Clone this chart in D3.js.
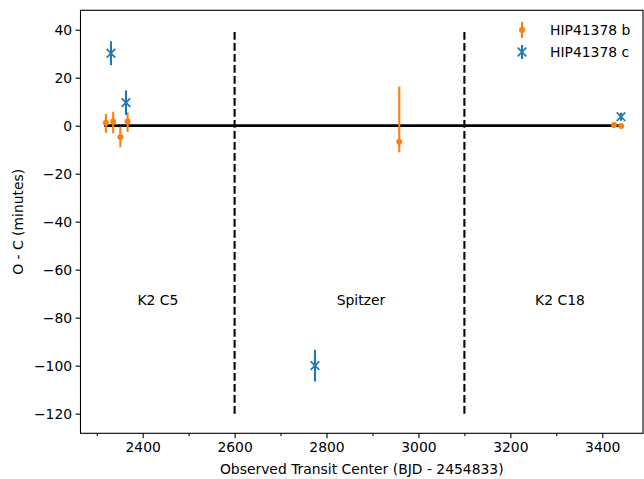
<!DOCTYPE html>
<html>
<head>
<meta charset="utf-8">
<script src="https://cdn.jsdelivr.net/npm/d3@7"></script>
<style>
  html, body { margin: 0; padding: 0; background: #fff; }
  svg { display: block; font-family: "DejaVu Sans", sans-serif; }
</style>
</head>
<body>
<svg id="chart" width="644" height="479"></svg>
<script>
// Transit timing of HIP 41378 b
const bDates  = [2320.0, 2335.8, 2351.3, 2367.2, 2958.3, 3425.5, 3441.0];
const bOC     = [1.2, 1.8, -4.7, 1.8, -6.7, 0.3, -0.1];
const bErrLo  = [4.1, 5.0, 4.3, 4.4, 4.4, 0.5, 0.5];
const bErrHi  = [3.7, 4.0, 4.3, 3.8, 23.0, 0.5, 0.5];

// Transit timing of HIP 41378 c
const cDates  = [2331.0, 2363.7, 2774.9, 3440.7];
const cOC     = [30.2, 9.6, -100.0, 3.75];
const cErr    = [5.0, 5.1, 6.6, 1.7];

// Observing campaign boundaries and labels
const boundaries = [2600, 3100];
const campaigns = [
  { name: "K2 C5",   x: 2433, y: -72.5 },
  { name: "Spitzer", x: 2875, y: -72.5 },
  { name: "K2 C18",  x: 3308, y: -72.5 }
];
const zeroLine = [2316, 3441];

const xTicks = [2400, 2600, 2800, 3000, 3200, 3400];
const xMinor = [2300, 2500, 2700, 2900, 3100, 3300];
const yTicks = [40, 20, 0, -20, -40, -60, -80, -100, -120];
const seriesNames = ["HIP41378 b", "HIP41378 c"];

const ORANGE = "#ff7f0e", BLUE = "#1f77b4";
const FS = 13.9;

const svg = d3.select("#chart");
const L = 80.5, R = 643, T = 10.3, B = 433.3;

const x = d3.scaleLinear().domain([2264.7, 3488.6]).range([L, R]);
const y = d3.scaleLinear().domain([-128.2, 48.1]).range([B, T]);

const minus = v => (v < 0 ? "\u2212" + Math.abs(v) : String(v));

// Axes
const gx = svg.append("g").attr("transform", `translate(0,${B})`)
  .call(d3.axisBottom(x).tickValues(xTicks).tickFormat(d3.format("d"))
    .tickSize(4.9).tickPadding(3.5));
svg.append("g").attr("transform", `translate(0,${B})`)
  .call(d3.axisBottom(x).tickValues(xMinor).tickFormat("").tickSize(2.8))
  .call(g => g.select(".domain").remove());
const gy = svg.append("g").attr("transform", `translate(${L},0)`)
  .call(d3.axisLeft(y).tickValues(yTicks).tickFormat(minus)
    .tickSize(4.9).tickPadding(3.5));

svg.selectAll(".tick text")
  .attr("font-size", FS).attr("font-family", "DejaVu Sans").attr("fill", "#000");
svg.selectAll(".tick line").attr("stroke", "#000").attr("stroke-width", 1.1);
svg.selectAll(".domain").remove();

// Frame
svg.append("rect").attr("x", L).attr("y", T)
  .attr("width", R - L).attr("height", B - T)
  .attr("fill", "none").attr("stroke", "#000").attr("stroke-width", 1.1);

// Zero reference line
svg.append("line")
  .attr("x1", x(zeroLine[0])).attr("x2", x(zeroLine[1]))
  .attr("y1", y(0)).attr("y2", y(0))
  .attr("stroke", "#000").attr("stroke-width", 2.8);

// Campaign boundaries
svg.selectAll(".bound").data(boundaries).join("line")
  .attr("x1", d => x(d)).attr("x2", d => x(d))
  .attr("y1", y(-120)).attr("y2", y(40))
  .attr("stroke", "#000").attr("stroke-width", 2.1)
  .attr("stroke-dasharray", "7.7,3.3");

// Campaign labels
svg.selectAll(".camp").data(campaigns).join("text")
  .attr("x", d => x(d.x)).attr("y", d => y(d.y))
  .attr("text-anchor", "middle").attr("dominant-baseline", "central")
  .attr("font-size", FS).text(d => d.name);

// Series b: error bars and dots
const bData = bDates.map((d, i) => ({ t: d, v: bOC[i], lo: bErrLo[i], hi: bErrHi[i] }));
svg.selectAll(".berr").data(bData).join("line")
  .attr("x1", d => x(d.t)).attr("x2", d => x(d.t))
  .attr("y1", d => y(d.v - d.lo)).attr("y2", d => y(d.v + d.hi))
  .attr("stroke", ORANGE).attr("stroke-width", 2.1);
svg.selectAll(".bdot").data(bData).join("circle")
  .attr("cx", d => x(d.t)).attr("cy", d => y(d.v)).attr("r", 3)
  .attr("fill", ORANGE);

// Series c: error bars and crosses
const cData = cDates.map((d, i) => ({ t: d, v: cOC[i], e: cErr[i] }));
svg.selectAll(".cerr").data(cData).join("line")
  .attr("x1", d => x(d.t)).attr("x2", d => x(d.t))
  .attr("y1", d => y(d.v - d.e)).attr("y2", d => y(d.v + d.e))
  .attr("stroke", BLUE).attr("stroke-width", 2.1);
const cross = (g, cx, cy, s) => {
  g.append("path")
    .attr("d", `M${cx - s},${cy - s}L${cx + s},${cy + s}M${cx - s},${cy + s}L${cx + s},${cy - s}`)
    .attr("stroke", BLUE).attr("stroke-width", 1.7).attr("fill", "none");
};
cData.forEach(d => cross(svg, x(d.t), y(d.v), 4.3));

// Legend
const lg = svg.append("g");
const lx = 522, ly = [30, 52];
lg.append("line").attr("x1", lx).attr("x2", lx).attr("y1", ly[0] - 8).attr("y2", ly[0] + 8)
  .attr("stroke", ORANGE).attr("stroke-width", 2.1);
lg.append("circle").attr("cx", lx).attr("cy", ly[0]).attr("r", 3).attr("fill", ORANGE);
lg.append("line").attr("x1", lx).attr("x2", lx).attr("y1", ly[1] - 7).attr("y2", ly[1] + 7)
  .attr("stroke", BLUE).attr("stroke-width", 2.1);
cross(lg, lx, ly[1], 4.3);
lg.selectAll("text").data(seriesNames).join("text")
  .attr("x", 550).attr("y", (d, i) => ly[i])
  .attr("dominant-baseline", "central").attr("font-size", FS).text(d => d);

// Axis titles
svg.append("text").attr("x", (L + R) / 2).attr("y", 469)
  .attr("text-anchor", "middle").attr("dominant-baseline", "central")
  .attr("font-size", FS).text("Observed Transit Center (BJD - 2454833)");
svg.append("text").attr("transform", `translate(18,${(T + B) / 2}) rotate(-90)`)
  .attr("text-anchor", "middle").attr("dominant-baseline", "central")
  .attr("font-size", FS).text("O - C (minutes)");
</script>
</body>
</html>
